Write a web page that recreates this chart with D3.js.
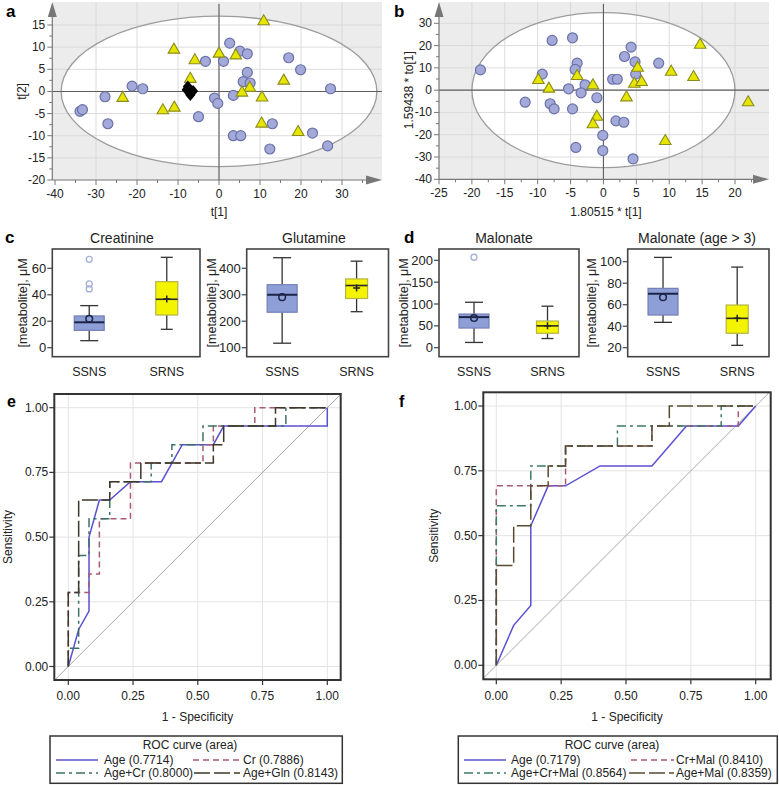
<!DOCTYPE html>
<html><head><meta charset="utf-8">
<script src="https://cdn.jsdelivr.net/npm/d3@7"></script>
<style>body{margin:0;background:#fff} svg{display:block;font-family:"Liberation Sans",Arial,sans-serif}</style>
</head><body><svg id="c" width="779" height="785"></svg>
<script>
// ---------- DATA ----------
// Panel a: PLS-DA scores t[1], t[2]
const plsSSNS = [[2.6,10.9],[5.1,9.1],[6.9,8.5],[-3.3,6.8],[1.1,6.8],[17.0,7.6],[19.9,4.9],[6.9,4.3],[5.9,2.2],[7.6,1.9],[-21.2,1.2],[-18.6,0.6],[27.2,0.6],[-27.8,-1.2],[-1.1,-1.5],[-0.3,-2.7],[3.5,-0.9],[-33.9,-4.5],[-33.3,-4.1],[-27.1,-7.3],[-5.0,-5.7],[3.5,-10],[5.3,-10],[13.0,-7.3],[12.4,-13],[22.8,-9.4],[26.5,-12.3]];
const plsSRNS = [[10.9,15.8],[-11.0,9.4],[-5.9,7.0],[0,8.5],[4.1,8.1],[-7.0,2.8],[15.8,2.4],[7.5,0.8],[5.6,-0.3],[10.5,-1.4],[-23.5,-1.5],[-13.7,-4.3],[-10.9,-3.7],[10.4,-7.3],[19.3,-9.2]];
const plsCentre = [[-7.6,1.1],[-7.9,0.4],[-6.3,0.1],[-7.0,-0.8]];
const plsEllipse = [38.5, 17];
const plsXTicks = [-40,-30,-20,-10,0,10,20,30];
const plsYTicks = [-20,-15,-10,-5,0,5,10,15];
// Panel b: OPLS-DA scores
const oplsSSNS = [[-18.7,9.1],[-9.3,7.2],[-7.8,22.3],[-4.7,23.5],[-4.0,12.1],[-4.3,9.3],[-5.3,0.6],[-2.8,2.4],[-3.4,-1.2],[-11.9,-5.4],[-8.1,-6.1],[-7.5,-8.4],[-4.7,-8.4],[-1.0,-3.4],[1.4,4.9],[2.1,4.9],[3.2,15.1],[4.2,19.3],[4.8,12.7],[4.9,7.2],[8.4,12.1],[1.9,-13.8],[3.1,-14.4],[-0.1,-20.3],[-0.1,-27.1],[-4.2,-25.7],[4.5,-30.8]];
const oplsSRNS = [[-9.9,4.5],[-8.3,0.6],[-4.0,6.3],[-1.6,2.1],[3.5,-3.3],[-1.0,-12.0],[-1.6,-15.4],[5.2,10.0],[4.7,2.8],[5.8,3.6],[10.3,8.2],[13.7,5.8],[14.7,20.3],[22.0,-5.5],[9.4,-22.9]];
const oplsEllipse = [20, 34.8];
const oplsXTicks = [-25,-20,-15,-10,-5,0,5,10,15,20];
const oplsYTicks = [-40,-30,-20,-10,0,10,20,30];
// Panels c, d: box plots [min, q1, median, q3, max]
const groups = ["SSNS","SRNS"];
const creatinineBox = [[5.3,13.1,19.2,24.0,31.8],[13.9,24.7,36.6,49.9,68.3]];
const creatinineMean = [21.9,36.8];
const creatinineOut = [[44.4,48.2,66.8],[]];
const glutamineBox = [[117,234,300,338,440],[236,286,335,360,427]];
const glutamineMean = [291,326];
const glutamineOut = [[],[]];
const malonateBox = [[12,45,70,77,104],[21,33,50,61,95]];
const malonateMean = [68,50];
const malonateOut = [[207],[]];
const malonate3Box = [[43.6,50.4,70.2,75.2,104],[22.2,33.4,47.3,59.7,95]];
const malonate3Mean = [67,47.5];
const malonate3Out = [[],[]];
// Panels e, f: ROC curves [1-specificity, sensitivity]
const rocTicks = [0,0.25,0.5,0.75,1];
const rocAgeE = [[0,0],[0.04,0.143],[0.08,0.214],[0.08,0.5],[0.12,0.643],[0.16,0.643],[0.24,0.714],[0.36,0.714],[0.44,0.857],[0.56,0.857],[0.60,0.929],[1,0.929],[1,1]];
const rocCrE = [[0,0],[0,0.286],[0.08,0.286],[0.08,0.357],[0.12,0.357],[0.12,0.571],[0.24,0.571],[0.24,0.786],[0.52,0.786],[0.52,0.857],[0.56,0.857],[0.56,0.929],[0.72,0.929],[0.72,1],[1,1]];
const rocAgeCrE = [[0,0],[0,0.071],[0.04,0.071],[0.04,0.429],[0.08,0.429],[0.08,0.571],[0.16,0.571],[0.16,0.714],[0.32,0.714],[0.32,0.786],[0.40,0.786],[0.40,0.857],[0.52,0.857],[0.52,0.929],[0.84,0.929],[0.84,1],[1,1]];
const rocAgeGlnE = [[0,0],[0,0.286],[0.04,0.286],[0.04,0.643],[0.16,0.643],[0.16,0.714],[0.28,0.714],[0.28,0.786],[0.56,0.786],[0.56,0.857],[0.60,0.857],[0.60,0.929],[0.80,0.929],[0.80,1],[1,1]];
const rocAgeF = [[0,0],[0.067,0.154],[0.133,0.231],[0.133,0.538],[0.2,0.692],[0.267,0.692],[0.4,0.769],[0.6,0.769],[0.733,0.923],[0.933,0.923],[1,1]];
const rocCrMalF = [[0,0],[0,0.692],[0.267,0.692],[0.267,0.846],[0.6,0.846],[0.6,0.923],[0.933,0.923],[0.933,1],[1,1]];
const rocAgeCrMalF = [[0,0],[0,0.615],[0.133,0.615],[0.133,0.769],[0.267,0.769],[0.267,0.846],[0.467,0.846],[0.467,0.923],[0.867,0.923],[0.867,1],[1,1]];
const rocAgeMalF = [[0,0],[0,0.385],[0.067,0.385],[0.067,0.538],[0.133,0.538],[0.133,0.692],[0.2,0.692],[0.2,0.769],[0.267,0.769],[0.267,0.846],[0.6,0.846],[0.6,0.923],[0.667,0.923],[0.667,1],[1,1]];
const legendE = ["Age (0.7714)","Cr (0.7886)","Age+Cr (0.8000)","Age+Gln (0.8143)"];
const legendF = ["Age (0.7179)","Cr+Mal (0.8410)","Age+Cr+Mal (0.8564)","Age+Mal (0.8359)"];

// ---------- DRAW ----------
const svg = d3.select('#c');

function txt(g, x, y, s, o={}) {
  const t = g.append('text').attr('x',x).attr('y',y).text(s)
    .attr('font-size', o.size||12).attr('fill', o.fill||'#222')
    .attr('text-anchor', o.anchor||'start');
  if (o.weight) t.attr('font-weight', o.weight);
  if (o.rotate) t.attr('transform', `rotate(-90,${x},${y})`);
  if (o.baseline) t.attr('dominant-baseline', o.baseline);
  return t;
}

function scatterPanel(o) {
  const g = svg.append('g');
  const x = d3.scaleLinear().domain(o.xDomain).range(o.xRange);
  const y = d3.scaleLinear().domain(o.yDomain).range(o.yRange);
  const {L,R,T,B} = o;
  g.append('rect').attr('x',L).attr('y',T).attr('width',R-L).attr('height',B-T).attr('fill','#ececec');
  const rx = x(o.ell[0]) - x(0), ry = y(0) - y(o.ell[1]);
  g.append('ellipse').attr('cx',x(0)).attr('cy',y(0)).attr('rx',rx).attr('ry',ry).attr('fill','#fff');
  g.selectAll(null).data(o.xGrid).join('line')
    .attr('x1',d=>x(d)).attr('x2',d=>x(d)).attr('y1',T).attr('y2',B)
    .attr('stroke','#d8d8d8').attr('stroke-width',0.9);
  g.selectAll(null).data(o.yGrid).join('line')
    .attr('y1',d=>y(d)).attr('y2',d=>y(d)).attr('x1',L).attr('x2',R)
    .attr('stroke','#d8d8d8').attr('stroke-width',0.9);
  g.append('ellipse').attr('cx',x(0)).attr('cy',y(0)).attr('rx',rx).attr('ry',ry)
    .attr('fill','none').attr('stroke','#9c9c9c').attr('stroke-width',1.3);
  g.append('line').attr('x1',x(0)).attr('x2',x(0)).attr('y1',T+2).attr('y2',B).attr('stroke','#5e5e5e').attr('stroke-width',1.1);
  g.append('line').attr('x1',L).attr('x2',R).attr('y1',y(0)).attr('y2',y(0)).attr('stroke','#5e5e5e').attr('stroke-width',1.1);
  g.append('line').attr('x1',L).attr('x2',L).attr('y1',B).attr('y2',T+10).attr('stroke','#777').attr('stroke-width',1.2);
  g.append('line').attr('x1',L).attr('x2',R-10).attr('y1',B).attr('y2',B).attr('stroke','#777').attr('stroke-width',1.2);
  g.append('path').attr('d',`M${L},${T}L${L-4.5},${T+15}L${L+4.5},${T+15}Z`).attr('fill','#777');
  g.append('path').attr('d',`M${R},${B}L${R-16},${B-4.5}L${R-16},${B+4.5}Z`).attr('fill','#777');
  g.selectAll(null).data(o.xMinor).join('line').attr('x1',d=>x(d)).attr('x2',d=>x(d)).attr('y1',B).attr('y2',B+3).attr('stroke','#777');
  g.selectAll(null).data(o.xTicks).join('line').attr('x1',d=>x(d)).attr('x2',d=>x(d)).attr('y1',B).attr('y2',B+5).attr('stroke','#777');
  g.selectAll(null).data(o.yMinor).join('line').attr('y1',d=>y(d)).attr('y2',d=>y(d)).attr('x1',L).attr('x2',L-3).attr('stroke','#777');
  g.selectAll(null).data(o.yTicks).join('line').attr('y1',d=>y(d)).attr('y2',d=>y(d)).attr('x1',L).attr('x2',L-5).attr('stroke','#777');
  o.xTicks.forEach(v => txt(g, x(v), B+18, String(v), {anchor:'middle', size:12}));
  o.yTicks.forEach(v => txt(g, L-7, y(v)+4, String(v), {anchor:'end', size:12}));
  txt(g, o.xLabelX, 216, o.xLabel, {anchor:'middle', size:12});
  txt(g, o.yLabelX, y(0), o.yLabel, {anchor:'middle', size:12, rotate:true});
  g.selectAll(null).data(o.ssns).join('circle').attr('cx',d=>x(d[0])).attr('cy',d=>y(d[1])).attr('r',5)
    .attr('fill','#a3a9d8').attr('stroke','#6b72a8').attr('stroke-width',1.2);
  const tri = d3.symbol().type(d3.symbolTriangle).size(58);
  g.selectAll(null).data(o.srns).join('path').attr('d',tri)
    .attr('transform',d=>`translate(${x(d[0])},${y(d[1])})`)
    .attr('fill','#e6e600').attr('stroke','#8c8c1e').attr('stroke-width',1.1);
  if (o.centre) {
    g.selectAll(null).data(o.centre).join('path').attr('d','M0,-6L5,0L0,6L-5,0Z')
      .attr('transform',d=>`translate(${x(d[0])},${y(d[1])})`).attr('fill','#000');
  }
  txt(g, o.tagX, 17, o.tag, {size:17, weight:'bold', fill:'#000'});
}

function range(a,b,s){ return d3.range(a, b+s/2, s); }

scatterPanel({
  xDomain:[-40,30], xRange:[55,342], yDomain:[-20,15], yRange:[180,25],
  L:52.3, R:382, T:2, B:180, ell:plsEllipse,
  xGrid:plsXTicks.filter(v=>v!==-40), yGrid:plsYTicks.filter(v=>v!==-20),
  xTicks:plsXTicks, yTicks:plsYTicks, xMinor:range(-35,35,10), yMinor:range(-17.5,17.5,5),
  xLabel:'t[1]', xLabelX:219, yLabel:'t[2]', yLabelX:26,
  ssns:plsSSNS, srns:plsSRNS, centre:plsCentre, tag:'a', tagX:6
});
scatterPanel({
  xDomain:[-25,20], xRange:[439,735], yDomain:[-40,30], yRange:[179.3,23.3],
  L:439, R:769, T:2, B:179.3, ell:oplsEllipse,
  xGrid:oplsXTicks.filter(v=>v!==-25), yGrid:oplsYTicks.filter(v=>v!==-40),
  xTicks:oplsXTicks, yTicks:oplsYTicks, xMinor:range(-22.5,22.5,5), yMinor:range(-35,35,10),
  xLabel:'1.80515 * t[1]', xLabelX:606, yLabel:'1.59438 * to[1]', yLabelX:413,
  ssns:oplsSSNS, srns:oplsSRNS, tag:'b', tagX:394
});

// ---------- Box plots ----------
function boxPanel(o) {
  const g = svg.append('g');
  const {L,R} = o; const T = 249, B = 356.7;
  const y = d3.scaleLinear().domain(o.yDomain).range([347.7, o.yTop]);
  const x = d3.scalePoint().domain(groups).range([L+0.25*(R-L), L+0.775*(R-L)]);
  g.append('rect').attr('x',L).attr('y',T).attr('width',R-L).attr('height',B-T).attr('fill','#fff');
  const widths = [30, 22], caps = [18, 12];
  const fills = ['#8e9ed6','#f4f400'], strokes = ['#7480b6','#b4b44c'];
  groups.forEach((gname,i) => {
    const s = o.stats[i], cx = x(gname), w = widths[i];
    g.append('line').attr('x1',cx).attr('x2',cx).attr('y1',y(s[0])).attr('y2',y(s[1])).attr('stroke','#333').attr('stroke-width',1.3);
    g.append('line').attr('x1',cx).attr('x2',cx).attr('y1',y(s[3])).attr('y2',y(s[4])).attr('stroke','#333').attr('stroke-width',1.3);
    [s[0],s[4]].forEach(v => g.append('line').attr('x1',cx-caps[i]/2).attr('x2',cx+caps[i]/2).attr('y1',y(v)).attr('y2',y(v)).attr('stroke','#333').attr('stroke-width',1.3));
    g.append('rect').attr('x',cx-w/2).attr('y',y(s[3])).attr('width',w).attr('height',y(s[1])-y(s[3]))
      .attr('fill',fills[i]).attr('stroke',strokes[i]).attr('stroke-width',1.2);
    g.append('line').attr('x1',cx-w/2).attr('x2',cx+w/2).attr('y1',y(s[2])).attr('y2',y(s[2]))
      .attr('stroke', i===0?'#1c2548':'#2a2a2a').attr('stroke-width', i===0?2:1.6);
    const m = o.mean[i];
    if (i===0) {
      g.append('circle').attr('cx',cx).attr('cy',y(m)).attr('r',3.3).attr('fill','none').attr('stroke','#1c2548').attr('stroke-width',1.5);
    } else {
      g.append('path').attr('d',`M${cx-3.5},${y(m)}H${cx+3.5}M${cx},${y(m)-3.5}V${y(m)+3.5}`).attr('stroke','#222').attr('stroke-width',1.5);
    }
    g.selectAll(null).data(o.out[i]).join('circle').attr('cx',cx).attr('cy',d=>y(d)).attr('r',3)
      .attr('fill','none').attr('stroke','#a4b0da').attr('stroke-width',1.3);
    txt(g, cx, 376, gname, {anchor:'middle', size:12.5});
  });
  g.append('rect').attr('x',L).attr('y',T).attr('width',R-L).attr('height',B-T).attr('fill','none')
    .attr('stroke','#444').attr('stroke-width',1.6);
  o.ticks.forEach(v => {
    g.append('line').attr('x1',L-5).attr('x2',L).attr('y1',y(v)).attr('y2',y(v)).attr('stroke','#444').attr('stroke-width',1.2);
    txt(g, L-6, y(v)+4.5, String(v), {anchor:'end', size:13});
  });
  txt(g, o.titleX, 242.5, o.title, {anchor:'middle', size:14});
  txt(g, o.ylabX, (T+B)/2, '[metabolite], μM', {anchor:'middle', size:12.5, rotate:true, baseline:'central'});
}
boxPanel({L:52.3, R:200, yDomain:[0,60], yTop:268.3, ticks:[0,20,40,60], stats:creatinineBox, mean:creatinineMean, out:creatinineOut, title:'Creatinine', titleX:122, ylabX:23});
boxPanel({L:246.7, R:388.5, yDomain:[100,400], yTop:268.3, ticks:[100,200,300,400], stats:glutamineBox, mean:glutamineMean, out:glutamineOut, title:'Glutamine', titleX:314, ylabX:212});
boxPanel({L:439, R:579, yDomain:[0,200], yTop:260.3, ticks:[0,50,100,150,200], stats:malonateBox, mean:malonateMean, out:malonateOut, title:'Malonate', titleX:504, ylabX:404});
boxPanel({L:627.7, R:769, yDomain:[20,100], yTop:261.7, ticks:[20,40,60,80,100], stats:malonate3Box, mean:malonate3Mean, out:malonate3Out, title:'Malonate (age > 3)', titleX:697, ylabX:592.5});
txt(svg, 5, 243, 'c', {size:17, weight:'bold', fill:'#000'});
txt(svg, 404, 243, 'd', {size:17, weight:'bold', fill:'#000'});

// ---------- ROC ----------
function rocPanel(o) {
  const g = svg.append('g');
  const {L,R,T,B} = o;
  const x = d3.scaleLinear().domain([0,1]).range(o.xr);
  const y = d3.scaleLinear().domain([0,1]).range(o.yr);
  g.append('rect').attr('x',L).attr('y',T).attr('width',R-L).attr('height',B-T).attr('fill','#fff');
  g.selectAll(null).data(rocTicks).join('line').attr('x1',d=>x(d)).attr('x2',d=>x(d)).attr('y1',T).attr('y2',B).attr('stroke','#e4e4e4').attr('stroke-width',1);
  g.selectAll(null).data(rocTicks).join('line').attr('y1',d=>y(d)).attr('y2',d=>y(d)).attr('x1',L).attr('x2',R).attr('stroke','#e4e4e4').attr('stroke-width',1);
  const d0 = Math.max(x.invert(L), y.invert(B)), d1 = Math.min(x.invert(R), y.invert(T));
  g.append('line').attr('x1',x(d0)).attr('y1',y(d0)).attr('x2',x(d1)).attr('y2',y(d1)).attr('stroke','#a8a8a8').attr('stroke-width',1);
  const line = d3.line().x(d=>x(d[0])).y(d=>y(d[1]));
  o.curves.forEach(c => {
    g.append('path').attr('d',line(c.data)).attr('fill','none').attr('stroke',c.color)
      .attr('stroke-width',1.5).attr('stroke-dasharray',c.dash||null);
  });
  g.append('rect').attr('x',L).attr('y',T).attr('width',R-L).attr('height',B-T).attr('fill','none').attr('stroke','#333').attr('stroke-width',2);
  rocTicks.forEach(v => {
    g.append('line').attr('x1',L-5).attr('x2',L).attr('y1',y(v)).attr('y2',y(v)).attr('stroke','#333').attr('stroke-width',1.2);
    txt(g, L-6, y(v)+4, v.toFixed(2), {anchor:'end', size:12});
    g.append('line').attr('x1',x(v)).attr('x2',x(v)).attr('y1',B).attr('y2',B+5).attr('stroke','#333').attr('stroke-width',1.2);
    txt(g, x(v), 700, v.toFixed(2), {anchor:'middle', size:12});
  });
  txt(g, (L+R)/2, 721, '1 - Specificity', {anchor:'middle', size:12});
  txt(g, o.sensX, (T+B)/2, 'Sensitivity', {anchor:'middle', size:12, rotate:true, baseline:'central'});
  const lg = o.legend;
  g.append('rect').attr('x',lg.x).attr('y',736).attr('width',lg.w).attr('height',47.3).attr('fill','#fff').attr('stroke','#333').attr('stroke-width',1.5);
  txt(g, lg.tx, 749, 'ROC curve (area)', {anchor:'middle', size:12});
  o.curves.forEach((c,i) => {
    const p = lg.items[i];
    g.append('line').attr('x1',p[0]).attr('x2',p[1]).attr('y1',p[3]-4).attr('y2',p[3]-4)
      .attr('stroke',c.color).attr('stroke-width',1.5).attr('stroke-dasharray',c.dash||null);
    txt(g, p[2], p[3], c.name, {size:12});
  });
  txt(svg, o.tagX, 407, o.tag, {size:16, weight:'bold', fill:'#000'});
}
rocPanel({
  L:54.3, R:340.7, T:394, B:680, xr:[68.3,327.3], yr:[666.5,407.7], sensX:8, tag:'e', tagX:7,
  curves:[
    {data:rocAgeE, name:legendE[0], color:'#5a50d2'},
    {data:rocCrE, name:legendE[1], color:'#a85a78', dash:'6,4'},
    {data:rocAgeCrE, name:legendE[2], color:'#3c7266', dash:'9,4,3,4'},
    {data:rocAgeGlnE, name:legendE[3], color:'#3f3727', dash:'16,4'}
  ],
  legend:{x:50, w:292.3, tx:190, items:[[56,98,104,764],[193,239,243,764],[56,98,104,777],[194,240,243,777]]}
});
rocPanel({
  L:483.3, R:770.7, T:392.3, B:679.3, xr:[496.3,755.7], yr:[665.3,406], sensX:434, tag:'f', tagX:399,
  curves:[
    {data:rocAgeF, name:legendF[0], color:'#5a50d2'},
    {data:rocCrMalF, name:legendF[1], color:'#a85a78', dash:'6,4'},
    {data:rocAgeCrMalF, name:legendF[2], color:'#3c7a68', dash:'9,4,3,4'},
    {data:rocAgeMalF, name:legendF[3], color:'#5a4a32', dash:'16,4'}
  ],
  legend:{x:458.3, w:319, tx:612, items:[[464,506,511,764],[631,674,676,764],[464,506,511,777],[629,674,676,777]]}
});
</script></body></html>
